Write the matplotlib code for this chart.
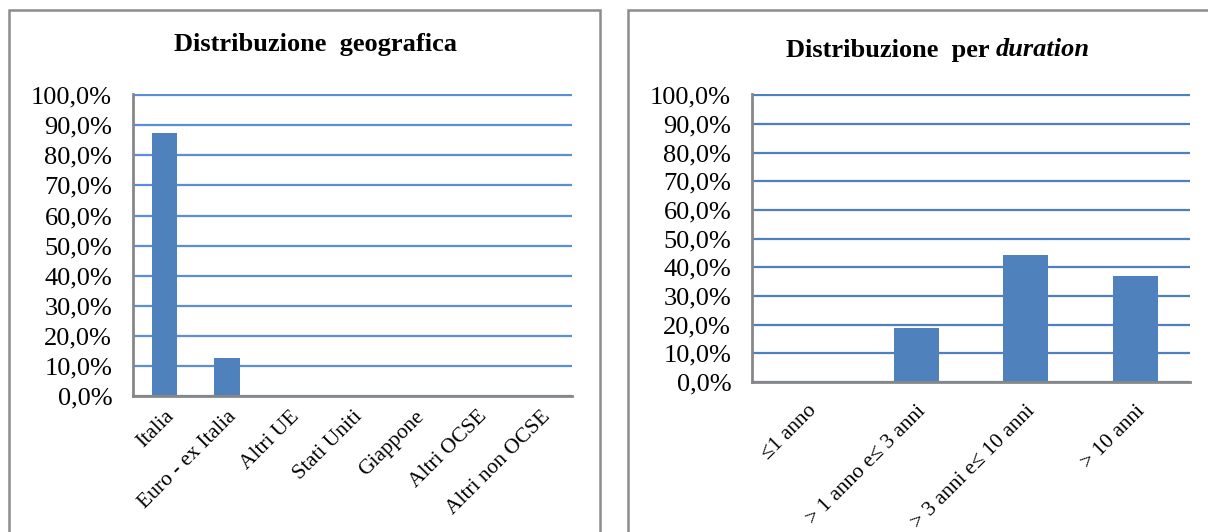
import matplotlib
matplotlib.use("Agg")
import matplotlib.pyplot as plt
from matplotlib.patches import Rectangle
from matplotlib.ticker import FuncFormatter, MultipleLocator

# quote per area geografica e per duration (frazioni)
geo_labels = ["Italia", "Euro - ex Italia", "Altri UE", "Stati Uniti",
              "Giappone", "Altri OCSE", "Altri non OCSE"]
geo_values = [0.874, 0.126, 0.0, 0.0, 0.0, 0.0, 0.0]

dur_labels = ["\u22641 anno", "> 1 anno e\u2264 3 anni",
              "> 3 anni e\u2264 10 anni", "> 10 anni"]
dur_values = [0.0, 0.188, 0.444, 0.368]

W, H = 1208, 532
BAR = "#4F81BD"
SPINE = "#878787"
FONT = "Liberation Serif"

plt.rcParams["font.family"] = [FONT, "DejaVu Serif"]


def px(x0, y0, x1, y1):
    # pixel box (top-left origin) -> figure fraction rect
    return [x0 / W, 1 - y1 / H, (x1 - x0) / W, (y1 - y0) / H]


def pct(v, _):
    return f"{v * 100:.1f}%".replace(".", ",")


def style(ax, labels, values, grid_color, xsize, xpad):
    x = range(len(labels))
    ax.bar(x, values, width=0.41, color=BAR, zorder=3)
    ax.set_xlim(-0.5, len(labels) - 0.5)
    ax.set_ylim(0, 1.004)
    ax.yaxis.set_major_locator(MultipleLocator(0.1))
    ax.yaxis.set_major_formatter(FuncFormatter(pct))
    ax.grid(axis="y", color=grid_color, linewidth=1.6, zorder=1)
    ax.set_axisbelow(True)
    for s in ("top", "right"):
        ax.spines[s].set_visible(False)
    for s in ("left", "bottom"):
        ax.spines[s].set_color(SPINE)
        ax.spines[s].set_linewidth(2.0)
        ax.spines[s].set_zorder(4)
    ax.tick_params(axis="y", length=0, pad=15, labelsize=19)
    ax.tick_params(axis="x", length=0, pad=xpad)
    ax.set_xticks(list(x))
    ax.set_xticklabels(labels, rotation=45, ha="right",
                       rotation_mode="anchor", fontsize=xsize)


fig = plt.figure(figsize=(W / 100, H / 100), dpi=100)

# cornici dei due grafici
for x0, x1 in ((9, 600), (628, 1240)):
    fig.add_artist(Rectangle((x0 / W, -0.1), (x1 - x0) / W, 1.1 - 10 / H,
                             transform=fig.transFigure, fill=False,
                             edgecolor="#8C8C8C", linewidth=1.8))

ax1 = fig.add_axes(px(133, 94, 572, 396))
style(ax1, geo_labels, geo_values, "#5B8ED6", 15.5, 8)

ax2 = fig.add_axes(px(752, 94, 1190, 382))
style(ax2, dur_labels, dur_values, "#4F7FBE", 15.5, 14)

fig.text(316 / W, 1 - 45 / H, "Distribuzione  geografica",
         ha="center", va="center", fontsize=19, fontweight="bold")

# titolo destro: parte in grassetto + "duration" in corsivo
t1 = fig.text(786 / W, 1 - 50 / H, "Distribuzione  per ",
              ha="left", va="center", fontsize=19, fontweight="bold")
fig.canvas.draw()
bb = t1.get_window_extent(fig.canvas.get_renderer())
fig.text(bb.x1 / W, 1 - 50 / H, "duration", ha="left", va="center",
         fontsize=19, fontweight="bold", fontstyle="italic")

fig.savefig("out.png", dpi=100)
